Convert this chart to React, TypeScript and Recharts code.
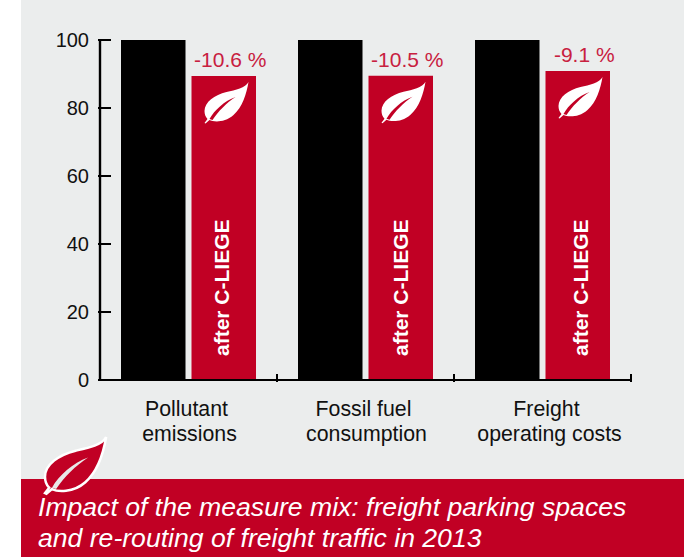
import { BarChart, Bar, XAxis, YAxis, LabelList } from "recharts";

const categories = ["Pollutant emissions", "Fossil fuel consumption", "Freight operating costs"];
const categoryLines = [
  ["Pollutant", "emissions"],
  ["Fossil fuel", "consumption"],
  ["Freight", "operating costs"],
];
const beforeValues = [100, 100, 100];
const afterValues = [89.4, 89.5, 90.9];
const changeLabels = ["-10.6 %", "-10.5 %", "-9.1 %"];
const yTicks = [0, 20, 40, 60, 80, 100];
const barLabel = "after C-LIEGE";
const titleLines = [
  "Impact of the measure mix: freight parking spaces",
  "and re-routing of freight traffic in 2013",
];

const RED = "#c10024";
const FONT = "'Liberation Sans', Arial, sans-serif";
const BAND = 177;
const LABEL_SHIFT = [0, 0, 6];
const AFTER_SHIFT = [-2, -0.5, 2.5];

const data = categories.map((name, i) => ({
  name,
  before: beforeValues[i],
  after: afterValues[i],
}));

const LEAF =
  "M44 0C41 6 31 8 22 10C10 13 0 20 0 29C0 32 1 35 3 37L0 41L1 41.5L5 38C9 40 20 41 29 33C38 25 42 12 44 0Z";
const VEIN = "M5 37C10 28 20 19 31 15C22 21 14 29 8 38Z";

function YTick({ x, y, payload }: any) {
  return (
    <g>
      <line x1={x} x2={x + 13} y1={y} y2={y} stroke="#000" strokeWidth={2} />
      <text x={x - 9} y={y + 7} textAnchor="end" fontSize={20} fill="#111" fontFamily={FONT}>
        {payload.value}
      </text>
    </g>
  );
}

function XTick({ x, y, index }: any) {
  const lines = categoryLines[index];
  const cx = x + LABEL_SHIFT[index];
  return (
    <g>
      <line x1={x + BAND / 2} x2={x + BAND / 2} y1={y} y2={y - 8} stroke="#000" strokeWidth={2} />
      <text x={cx - 2} y={416} textAnchor="middle" fontSize={21.3} fill="#111" fontFamily={FONT}>
        {lines[0]}
      </text>
      <text x={cx + 1} y={441} textAnchor="middle" fontSize={21.3} fill="#111" fontFamily={FONT}>
        {lines[1]}
      </text>
    </g>
  );
}

function ChangeLabel({ x, y, width, index }: any) {
  return (
    <text
      x={x + width / 2 + 6.5}
      y={y - 9}
      textAnchor="middle"
      fontSize={21}
      fill="#c8203f"
      fontFamily={FONT}
    >
      {changeLabels[index]}
    </text>
  );
}

function LeafLabel({ x, y }: any) {
  return (
    <g transform={`translate(${x + 13} ${y + 6})`}>
      <path d={LEAF} fill="#fff" />
      <path d={VEIN} fill={RED} />
    </g>
  );
}

function AfterLabel({ x, y, width, height, index }: any) {
  const tx = x + width / 2 + 7.5 + AFTER_SHIFT[index];
  const by = y + height - 24;
  return (
    <text
      transform={`rotate(-90 ${tx} ${by})`}
      x={tx}
      y={by}
      fontSize={21}
      fontWeight="bold"
      fill="#fff"
      fontFamily={FONT}
    >
      {barLabel}
    </text>
  );
}

export default function App() {
  return (
    <div style={{ position: "absolute", left: 0, top: 0, width: 684, height: 557, background: "#fff", overflow: "hidden" }}>
      <div style={{ position: "absolute", left: 21, top: 0, width: 663, height: 479, background: "#ebeded" }} />
      <div style={{ position: "absolute", left: 21, top: 479, width: 663, height: 78, background: RED }} />
      <div style={{ position: "absolute", left: 0, top: 0 }}>
        <BarChart
          width={684}
          height={557}
          data={data}
          margin={{ top: 40, right: 53, bottom: 0, left: 0 }}
          barSize={64.5}
          barGap={6}
        >
          <XAxis
            dataKey="name"
            height={177}
            axisLine={{ stroke: "#000", strokeWidth: 2 }}
            tickLine={false}
            tickSize={0}
            interval={0}
            tick={<XTick />}
          />
          <YAxis
            width={100}
            domain={[0, 100]}
            ticks={yTicks}
            axisLine={{ stroke: "#000", strokeWidth: 2.4 }}
            tickLine={false}
            tickSize={0}
            interval={0}
            tick={<YTick />}
          />
          <Bar dataKey="before" fill="#000" isAnimationActive={false} />
          <Bar dataKey="after" fill={RED} isAnimationActive={false}>
            <LabelList dataKey="after" content={<ChangeLabel />} />
            <LabelList dataKey="after" content={<LeafLabel />} />
            <LabelList dataKey="after" content={<AfterLabel />} />
          </Bar>
        </BarChart>
      </div>
      <svg width={684} height={557} style={{ position: "absolute", left: 0, top: 0 }}>
        <g transform="translate(45 437) scale(1.39 1.37)">
          <path d={LEAF} fill={RED} stroke="#fff" strokeWidth={1.8} />
          <path d={VEIN} fill="#e8e8e8" />
        </g>
        {titleLines.map((line, i) => (
          <text
            key={line}
            x={38}
            y={516 + i * 31}
            fontSize={26.6}
            fontStyle="italic"
            fill="#fff"
            fontFamily={FONT}
          >
            {line}
          </text>
        ))}
      </svg>
    </div>
  );
}
